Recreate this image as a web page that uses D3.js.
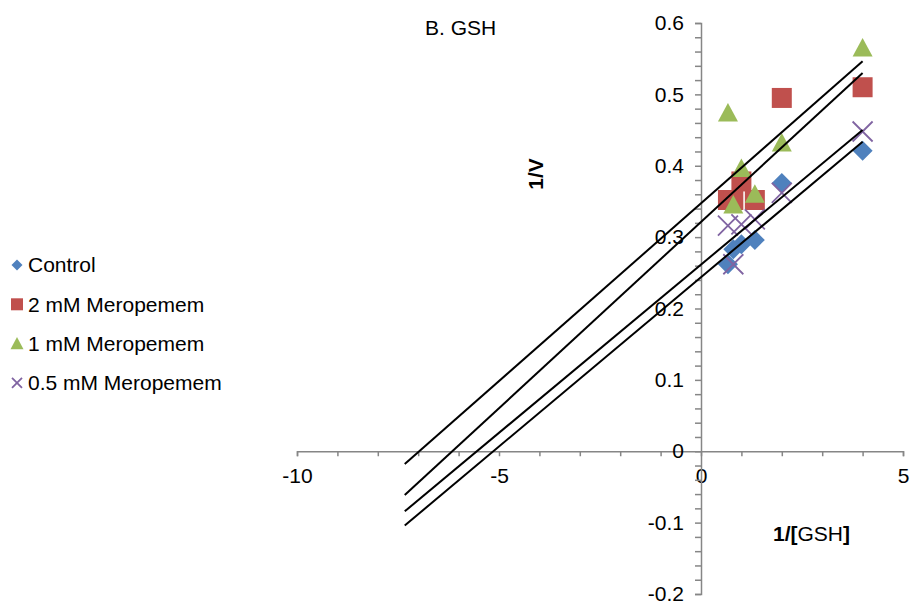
<!DOCTYPE html>
<html>
<head>
<meta charset="utf-8">
<script src="https://d3js.org/d3.v7.min.js"></script>
<style>
  body { margin: 0; background: #fff; }
  text { font-family: "Liberation Sans", Arial, sans-serif; }
</style>
</head>
<body>
<div id="chart"></div>
<script>
// 1/[GSH] values shared by every series
const invGSH = [0.667, 0.8, 1, 1.333, 2, 4];

const controlV = [0.262, 0.283, 0.29, 0.296, 0.376, 0.421];
const mero2V   = [0.352, 0.352, 0.378, 0.352, 0.495, 0.51];
const mero1V   = [0.474, 0.345, 0.396, 0.36, 0.432, 0.565];
const mero05V  = [0.316, 0.262, 0.318, 0.325, 0.362, 0.448];

const seriesNames = ["Control", "2 mM Meropemem", "1 mM Meropemem", "0.5 mM Meropemem"];
const seriesColors = ["#4F81BD", "#C0504D", "#9BBB59", "#8064A2"];
const seriesShapes = ["diamond", "square", "triangle", "cross"];

const xTickLabels = [-10, -5, 0, 5];
const yTickLabels = [-0.2, -0.1, 0, 0.1, 0.2, 0.3, 0.4, 0.5, 0.6];
const backwardForecast = 8;

const series = seriesNames.map((name, i) => ({
  name: name,
  color: seriesColors[i],
  shape: seriesShapes[i],
  values: [controlV, mero2V, mero1V, mero05V][i].map((v, j) => ({ x: invGSH[j], y: v }))
}));

const width = 911, height = 601;
const fontSize = "21px";
const svg = d3.select("#chart").append("svg")
  .attr("width", width)
  .attr("height", height);

const x = d3.scaleLinear().domain([-10, 5]).range([297, 903]);
const y = d3.scaleLinear().domain([-0.2, 0.6]).range([594, 23]);

const axisColor = "#868686";
// excel style labels, plain hyphen for minus
const fmtX = d => String(d).replace("\u2212", "-");
const fmtY = d => Math.abs(d) < 1e-9 ? "0" : d3.format(".1f")(d).replace("\u2212", "-");

// x axis: minor ticks every 1, labels every 5
const xAxisG = svg.append("g").attr("transform", `translate(0,${y(0)})`);
xAxisG.call(d3.axisBottom(x).tickValues(d3.range(-10, 6, 1)).tickSize(5).tickFormat(""));
const xLab = svg.append("g").attr("transform", `translate(0,${y(0)})`)
  .call(d3.axisBottom(x).tickValues(xTickLabels).tickSize(0).tickPadding(17).tickFormat(fmtX));
xLab.select(".domain").remove();

// y axis: minor ticks every 0.02, labels every 0.1
const yAxisG = svg.append("g").attr("transform", `translate(${x(0)},0)`);
yAxisG.call(d3.axisLeft(y).tickValues(d3.range(-10, 31, 1).map(d => d * 0.02)).tickSize(6).tickFormat(""));
const yLab = svg.append("g").attr("transform", `translate(${x(0)},0)`)
  .call(d3.axisLeft(y).tickValues(yTickLabels).tickSize(0).tickPadding(17).tickFormat(fmtY));
yLab.select(".domain").remove();

svg.selectAll(".domain").attr("stroke", axisColor).attr("stroke-width", 1.5);
svg.selectAll(".tick line").attr("stroke", axisColor).attr("stroke-width", 1.5);
svg.selectAll(".tick text").attr("fill", "#000").style("font-size", fontSize)
  .style("font-family", "'Liberation Sans', Arial, sans-serif");

// marker shapes
const shapePath = (shape, s) => {
  const h = s / 2;
  if (shape === "diamond") return `M0,${-h}L${h},0L0,${h}L${-h},0Z`;
  if (shape === "square") return `M${-h},${-h}H${h}V${h}H${-h}Z`;
  if (shape === "triangle") return `M0,${-h}L${h},${h * 0.85}L${-h},${h * 0.85}Z`;
  return `M${-h},${-h}L${h},${h}M${h},${-h}L${-h},${h}`;
};

const drawMarker = (g, shape, color, s) => {
  const p = g.append("path").attr("d", shapePath(shape, s));
  if (shape === "cross") {
    p.attr("fill", "none").attr("stroke", color).attr("stroke-width", 1.8);
  } else {
    p.attr("fill", color);
  }
};

series.forEach(sr => {
  sr.values.forEach(d => {
    const g = svg.append("g").attr("transform", `translate(${x(d.x)},${y(d.y)})`);
    drawMarker(g, sr.shape, sr.color, 20);
  });
});

// linear trendlines, least squares, forecast backward like Excel
series.forEach(sr => {
  const xs = sr.values.map(d => d.x), ys = sr.values.map(d => d.y);
  const mx = d3.mean(xs), my = d3.mean(ys);
  const slope = d3.sum(xs, (v, i) => (v - mx) * (ys[i] - my)) / d3.sum(xs, v => (v - mx) * (v - mx));
  const icpt = my - slope * mx;
  const x0 = d3.min(xs) - backwardForecast, x1 = d3.max(xs);
  svg.append("line")
    .attr("x1", x(x0)).attr("y1", y(icpt + slope * x0))
    .attr("x2", x(x1)).attr("y2", y(icpt + slope * x1))
    .attr("stroke", "#000").attr("stroke-width", 2);
});

// legend
const legend = svg.append("g").attr("transform", "translate(17,265)");
const legendSizes = [11, 12, 13, 10];
series.forEach((sr, i) => {
  const row = legend.append("g").attr("transform", `translate(0,${i * 39.3})`);
  drawMarker(row, sr.shape, sr.color, legendSizes[i]);
  row.append("text").attr("x", 11).attr("dy", "0.35em")
    .style("font-size", fontSize).text(sr.name);
});

// titles
svg.append("text").attr("x", 425).attr("y", 35).style("font-size", fontSize).text("B. GSH");

svg.append("text")
  .attr("transform", `translate(536,174) rotate(-90)`)
  .attr("text-anchor", "middle").attr("dy", "0.35em")
  .style("font-size", fontSize).style("font-weight", "bold").text("1/V");

const xTitle = svg.append("text").attr("x", 773).attr("y", 541).style("font-size", fontSize);
xTitle.append("tspan").style("font-weight", "bold").text("1/[");
xTitle.append("tspan").text("GSH");
xTitle.append("tspan").style("font-weight", "bold").text("]");
</script>
</body>
</html>
